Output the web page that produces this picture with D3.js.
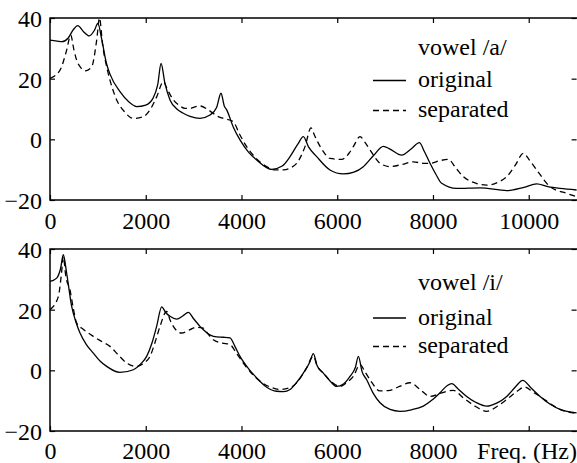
<!DOCTYPE html>
<html>
<head>
<meta charset="utf-8">
<script src="https://cdn.jsdelivr.net/npm/d3@7"></script>
</head>
<body style="margin:0; background:#fff">
<script>

// spectra: [Hz, dB]
var vowelAOriginal = [
  [0, 32.7], [150, 32.4], [250, 32.2], [380, 33.4], [480, 36], [580, 37.5], [700, 35.5], [821, 34.1],
  [930, 36], [1000, 38.2], [1080, 33], [1180, 25], [1253, 21.5], [1462, 15.7], [1650, 12.3], [1810, 10.8],
  [2000, 11.3], [2150, 13.5], [2250, 18], [2320, 25], [2400, 18.5], [2507, 13], [2650, 10], [2785, 8.6],
  [2925, 7.6], [3133, 6.9], [3342, 8], [3480, 10.5], [3572, 15.2], [3640, 11], [3691, 9.7], [3830, 4],
  [3969, -0.2], [4150, -4.3], [4318, -6.8], [4631, -9.9], [4850, -8.8], [5014, -5.7], [5180, -1.5],
  [5292, 0.9], [5400, -2.5], [5571, -5.7], [5849, -10.1], [6127, -11.4], [6350, -10.8], [6545, -9],
  [6750, -5.5], [6963, -2.3], [7102, -3.2], [7346, -5.2], [7555, -3], [7715, -1.1], [7820, -4],
  [7938, -7.9], [8060, -11.5], [8182, -14.5], [8495, -16.2], [8983, -16], [9541, -16.9], [9900, -15.8],
  [10167, -14.7], [10400, -15.6], [10654, -16.2], [11000, -16.7]
];

var vowelASeparated = [
  [0, 20.1], [209, 22.8], [348, 29.4], [432, 34.4], [500, 29.5], [557, 26.1], [650, 23.5], [746, 22.6],
  [871, 23.9], [975, 32.7], [1034, 40], [1100, 31], [1184, 23.9], [1300, 17], [1393, 13], [1550, 9.2],
  [1741, 6.9], [1950, 7.5], [2100, 10], [2228, 14], [2368, 19], [2450, 16.5], [2576, 13], [2700, 11.2],
  [2820, 10.2], [2925, 10.2], [3050, 10.8], [3133, 11], [3307, 9.7], [3500, 7.6], [3620, 6.9],
  [3829, 5.8], [3950, 2], [4108, -2.4], [4300, -6.2], [4526, -9], [4700, -10.1], [4874, -10.1],
  [5050, -9.2], [5153, -7.9], [5327, -2.4], [5452, 3.8], [5520, 1.5], [5571, -0.2], [5700, -3.8],
  [5849, -6.3], [6093, -6.6], [6250, -4.5], [6336, -2.4], [6476, 0.9], [6580, -1], [6685, -3.5],
  [6894, -7.9], [7102, -9], [7350, -8.3], [7589, -7.4], [7800, -7.9], [7938, -7.9], [8150, -7],
  [8321, -6.6], [8480, -9.5], [8634, -12.3], [8900, -14.5], [9122, -15.1], [9350, -14.2], [9541, -12.3],
  [9720, -8.5], [9889, -4.6], [10000, -6.5], [10167, -10.1], [10445, -15.6], [10793, -17.8], [11000, -18.9]
];

var vowelIOriginal = [
  [0, 29.3], [140, 30.4], [220, 33.5], [278, 38.1], [348, 32], [453, 21.1], [540, 16], [627, 12.3],
  [760, 8.5], [905, 5.7], [1050, 3], [1184, 1.3], [1462, -0.7], [1741, 0.2], [1900, 2.2], [2019, 4.6],
  [2130, 9], [2228, 14.5], [2333, 20.9], [2420, 19], [2507, 17.8], [2646, 16.9], [2780, 18], [2889, 19.1],
  [3000, 17], [3133, 14.5], [3203, 13.4], [3350, 11.6], [3481, 11], [3620, 10.9], [3760, 10.7], [3860, 8],
  [3969, 4.6], [4150, 0.5], [4318, -2.5], [4520, -5.5], [4735, -6.9], [4880, -7], [5014, -6.3],
  [5150, -4], [5292, -0.9], [5420, 2.5], [5501, 5.5], [5580, 1.5], [5710, -0.9], [5850, -3.5],
  [5988, -5.3], [6130, -4.5], [6267, -2], [6380, 1], [6441, 4.6], [6520, -0.5], [6615, -3.1],
  [6750, -7.5], [6894, -10.7], [7102, -12.9], [7311, -13.5], [7550, -13], [7798, -11.8], [7980, -9.8],
  [8147, -7.4], [8300, -5], [8391, -4.4], [8530, -6.2], [8704, -8.6], [8900, -10.6], [9122, -11.8],
  [9330, -10.8], [9541, -8.6], [9720, -5.5], [9875, -3.3], [10050, -5.8], [10237, -8.6], [10450, -11.2],
  [10654, -12.9], [11000, -14]
];

var vowelISeparated = [
  [0, 20], [174, 24.3], [240, 32], [278, 37.5], [330, 31], [418, 26.5], [480, 21], [557, 15.6],
  [700, 13.5], [905, 11.2], [1080, 9.5], [1253, 7.9], [1430, 5], [1602, 2.4], [1810, 1.3], [1950, 2.3],
  [2089, 4.6], [2200, 9.5], [2298, 14.5], [2437, 19.4], [2510, 16.5], [2576, 14.5], [2750, 12.3],
  [2925, 13.4], [3050, 14.2], [3203, 13.9], [3300, 12], [3412, 10.1], [3600, 9], [3760, 8.5],
  [3900, 5.5], [4038, 2.4], [4200, -0.8], [4387, -3.6], [4600, -5.5], [4805, -6.3], [5000, -5.8],
  [5153, -4.1], [5350, 0.5], [5501, 4.6], [5580, 1.5], [5710, -0.9], [5880, -3.8], [6058, -5.3],
  [6200, -4], [6336, -2], [6476, 1.9], [6580, -0.5], [6685, -3.1], [6894, -6.8], [7102, -6.6],
  [7300, -5.3], [7520, -4.1], [7729, -6.3], [7938, -8.6], [8182, -7.4], [8425, -6.6], [8634, -9.1],
  [8900, -12], [9122, -13.5], [9330, -12], [9541, -9.6], [9750, -7], [9917, -5.5], [10100, -7.3],
  [10237, -8.6], [10450, -11], [10654, -12.9], [11000, -14.2]
];

var freqTicks = [0, 2000, 4000, 6000, 8000, 10000];
var topFreqLabels = ['0', '2000', '4000', '6000', '8000', '10000'];
var bottomFreqLabels = ['0', '2000', '4000', '6000', '8000', 'Freq. (Hz)'];
var dbTicks = [-20, 0, 20, 40];
var legendNames = ['original', 'separated'];

var Spectra = {

  svg: null,
  font: "'Liberation Serif'",
  fontSize: '24px',

  x: d3.scaleLinear().domain([0, 11000]).range([50, 576.6]),
  frameRight: 578,

  init: function () {

    this.svg = d3.select('body').append('svg')
      .attr('width', 577)
      .attr('height', 463);

    this.drawPanel({
      id: 'a', top: 18, bottom: 200,
      original: vowelAOriginal, separated: vowelASeparated,
      freqLabels: topFreqLabels, labelPad: 12,
      title: 'vowel /a/', titleY: 55, lineY: [80.5, 110.5], textY: [87, 117]
    });

    this.drawPanel({
      id: 'i', top: 249, bottom: 431,
      original: vowelIOriginal, separated: vowelISeparated,
      freqLabels: bottomFreqLabels, labelPad: 11,
      title: 'vowel /i/', titleY: 290, lineY: [318, 346.5], textY: [325, 353]
    });

    // inline styles, so nothing falls back to the axis' sans-serif
    this.svg.selectAll('text')
      .style('font-family', this.font)
      .style('font-size', this.fontSize)
      .style('fill', '#000');
  },

  drawPanel: function (p) {

    var x = this.x;
    var y = d3.scaleLinear().domain([-20, 40]).range([p.bottom, p.top]);
    var g = this.svg.append('g');

    g.append('clipPath').attr('id', 'clip-' + p.id)
      .append('rect')
      .attr('x', x(0)).attr('y', p.top)
      .attr('width', this.frameRight - x(0)).attr('height', p.bottom - p.top);

    var line = d3.line()
      .x(function (d) { return x(d[0]); })
      .y(function (d) { return y(d[1]); })
      .curve(d3.curveMonotoneX);

    [p.separated, p.original].forEach(function (series, i) {
      g.append('path')
        .datum(series)
        .attr('clip-path', 'url(#clip-' + p.id + ')')
        .attr('d', line)
        .style('fill', 'none')
        .style('stroke', '#000')
        .style('stroke-width', 1.3)
        .style('stroke-dasharray', i === 0 ? '6,4' : null);
    });

    // bottom axis with labels, ticks pointing in
    var xAxis = g.append('g')
      .attr('transform', 'translate(0,' + p.bottom + ')')
      .call(d3.axisBottom(x).tickValues(freqTicks).tickSize(-5).tickPadding(p.labelPad)
        .tickFormat(function (d, i) { return p.freqLabels[i]; }));

    // the unit label sits flush with the right edge
    xAxis.selectAll('text')
      .filter(function (d) { return d === 10000 && p.freqLabels === bottomFreqLabels; })
      .attr('text-anchor', 'end')
      .attr('x', 576.5 - x(10000));

    g.append('g')
      .attr('transform', 'translate(0,' + p.top + ')')
      .call(d3.axisTop(x).tickValues(freqTicks).tickSize(-5).tickFormat(''));

    var yAxis = g.append('g')
      .attr('transform', 'translate(' + x(0) + ',0)')
      .call(d3.axisLeft(y).tickValues(dbTicks).tickSize(-5).tickPadding(8));
    yAxis.selectAll('text').attr('dy', '0.36em');

    g.append('g')
      .attr('transform', 'translate(' + x(11000) + ',0)')
      .call(d3.axisRight(y).tickValues(dbTicks).tickSize(-5).tickFormat(''));

    g.selectAll('.domain').remove();
    g.selectAll('.tick line').style('stroke', '#000').style('stroke-width', 1.2);

    // frame
    g.append('rect')
      .attr('x', x(0)).attr('y', p.top)
      .attr('width', this.frameRight - x(0)).attr('height', p.bottom - p.top)
      .style('fill', 'none')
      .style('stroke', '#000')
      .style('stroke-width', 1.5);

    // legend
    var legend = g.append('g');

    legend.append('text')
      .attr('x', 418).attr('y', p.titleY)
      .text(p.title);

    legendNames.forEach(function (name, i) {
      legend.append('line')
        .attr('x1', 373).attr('x2', 406)
        .attr('y1', p.lineY[i]).attr('y2', p.lineY[i])
        .style('stroke', '#000')
        .style('stroke-width', 1.3)
        .style('stroke-dasharray', i === 1 ? '6,4' : null);
      legend.append('text')
        .attr('x', 418).attr('y', p.textY[i])
        .text(name);
    });
  }
};

Spectra.init();
</script>
</body>
</html>
